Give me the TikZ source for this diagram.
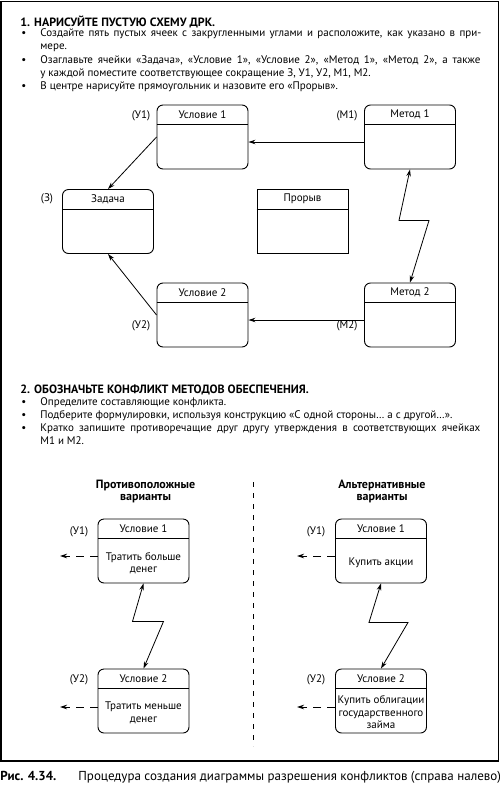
\documentclass[tikz,border=0pt]{standalone}
\usepackage{fontspec}
\setmainfont{PT Sans}
\usetikzlibrary{arrows.meta}

\tikzset{
  txt/.style={anchor=base west, inner sep=0pt, font=\fontsize{11}{13}\selectfont},
  head/.style={txt, font=\fontsize{12}{13}\selectfont\bfseries},
  lbl/.style={inner sep=0pt, font=\fontsize{11}{12.5}\selectfont, align=center},
  cell/.style={draw, rounded corners=6pt, minimum width=91pt, minimum height=64pt, inner sep=0pt, line width=0.9pt},
  flat/.style={cell, rounded corners=0pt},
  dasharrow/.style={->, dash pattern=on 8pt off 6pt}
}

\begin{document}
\begin{tikzpicture}[x=1pt, y=-1pt, line width=0.8pt, >={Stealth[length=7pt,width=4.5pt]}]
            \useasboundingbox (0,0) rectangle (500,788);
            \draw[line width=1.2pt] (1,1.5) rectangle (498.5,761);

            \node[head] (h1) at (20,26) {1. НАРИСУЙТЕ ПУСТУЮ СХЕМУ ДРК.};
            \node[txt] (d1) at (21,36) {•};
            \node[txt] (l1) at (40,36) {\makebox[441pt][s]{Создайте пять пустых ячеек с закругленными углами и расположите, как указано в при-}};
            \node[txt] (l2) at (40,49) {мере.};
            \node[txt] (d2) at (21,63) {•};
            \node[txt] (l3) at (40,63) {\makebox[440pt][s]{Озаглавьте ячейки «Задача», «Условие 1», «Условие 2», «Метод 1», «Метод 2», а также}};
            \node[txt] (l4) at (40,76) {у каждой поместите соответствующее сокращение З, У1, У2, М1, М2.};
            \node[txt] (d3) at (21,89) {•};
            \node[txt] (l5) at (40,89) {В центре нарисуйте прямоугольник и назовите его «Прорыв».};

            \node[cell] (u1) at (202.5,137) {};
            \node[cell] (z) at (108,221.5) {};
            \node[cell] (u2) at (202.5,315) {};
            \node[cell] (m1) at (410,137) {};
            \node[flat] (pr) at (302.5,221.5) {};
            \node[cell] (m2) at (410,315) {};

            \node[lbl] (u1t) at ([yshift=-10pt]u1.north) {Условие 1};
            \node[lbl] (zt) at ([yshift=-10pt]z.north) {Задача};
            \node[lbl] (u2t) at ([yshift=-10pt]u2.north) {Условие 2};
            \node[lbl] (m1t) at ([yshift=-10pt]m1.north) {Метод 1};
            \node[lbl] (prt) at ([yshift=-10pt]pr.north) {Прорыв};
            \node[lbl] (m2t) at ([yshift=-10pt]m2.north) {Метод 2};

            \node[lbl] (u1n) at (141,116) {(У1)};
            \node[lbl] (zn) at (47,199) {(З)};
            \node[lbl] (u2n) at (141,326) {(У2)};
            \node[lbl] (m1n) at (347,116) {(М1)};
            \node[lbl] (m2n) at (347,326) {(М2)};

            \draw[->] ([yshift=-5pt]m1.west) -- ([yshift=-5pt]u1.east);
            \draw[->] ([yshift=-5pt]m2.west) -- ([yshift=-5pt]u2.east);
            \draw[->] (u1.west) -- (z.north);
            \draw[->] (u2.west) -- (z.south);
            \draw[<->] (m1.south) -- ++(-11,51) -- ++(30,0) -- (m2.north);

            \node[head] (h2) at (20,393) {2. ОБОЗНАЧЬТЕ КОНФЛИКТ МЕТОДОВ ОБЕСПЕЧЕНИЯ.};
            \node[txt] (d4) at (21,405) {•};
            \node[txt] (k1) at (40,405) {Определите составляющие конфликта.};
            \node[txt] (d5) at (21,418) {•};
            \node[txt] (k2) at (40,418) {Подберите формулировки, используя конструкцию «С одной стороны… а с другой…».};
            \node[txt] (d6) at (21,431) {•};
            \node[txt] (k3) at (40,431) {\makebox[440pt][s]{Кратко запишите противоречащие друг другу утверждения в соответствующих ячейках}};
            \node[txt] (k4) at (40,444) {М1 и М2.};

            \draw[dash pattern=on 5pt off 6pt] (253,482) -- (253,746);

            \node[lbl, font=\fontsize{12}{12}\selectfont\bfseries] (ct1) at (145.5,491) {Противоположные\\варианты};
            \node[lbl, font=\fontsize{12}{12}\selectfont\bfseries] (ct2) at (382,491) {Альтернативные\\варианты};

            \node[cell] (a1) at (143.5,551) {};
            \node[cell] (a2) at (143.5,701) {};
            \node[cell] (b1) at (381,551) {};
            \node[cell] (b2) at (381,701) {};

            \node[lbl] (a1t) at ([yshift=-10pt]a1.north) {Условие 1};
            \node[lbl] (a2t) at ([yshift=-10pt]a2.north) {Условие 2};
            \node[lbl] (b1t) at ([yshift=-10pt]b1.north) {Условие 1};
            \node[lbl] (b2t) at ([yshift=-10pt]b2.north) {Условие 2};

            \node[lbl] (a1b) at (143.5,563) {Тратить больше\\денег};
            \node[lbl] (a2b) at (143.5,713) {Тратить меньше\\денег};
            \node[lbl] (b1b) at (381,563) {Купить акции};
            \node[lbl] (b2b) at (381,712.5) {Купить облигации\\государственного\\займа};

            \node[lbl] (a1n) at (79,532) {(У1)};
            \node[lbl] (a2n) at (79,680) {(У2)};
            \node[lbl] (b1n) at (316,532) {(У1)};
            \node[lbl] (b2n) at (316,680) {(У2)};

            \foreach \b in {u1,z,u2,m1,pr,m2,a1,a2,b1,b2}
              \draw ([yshift=-20pt]\b.north west) -- ([yshift=-20pt]\b.north east);

            \coordinate (a1e) at (60,556);
            \coordinate (a2e) at (60,707);
            \coordinate (b1e) at (297,556);
            \coordinate (b2e) at (297,707);
            \draw[dasharrow] ([yshift=-5pt]a1.west) -- (a1e);
            \draw[dasharrow] ([yshift=-6pt]a2.west) -- (a2e);
            \draw[dasharrow] ([yshift=-5pt]b1.west) -- (b1e);
            \draw[dasharrow] ([yshift=-6pt]b2.west) -- (b2e);

            \draw[<->] (a1.south) -- ++(-11,38) -- ++(31,0) -- (a2.north);
            \draw[<->] (b1.south) -- ++(-12,39) -- ++(39,0) -- (b2.north);

            \node[txt, font=\fontsize{13}{14}\selectfont\bfseries] (cap1) at (0,780) {Рис. 4.34.};
            \node[txt, font=\fontsize{13}{14}\selectfont] (cap2) at (78,780) {Процедура создания диаграммы разрешения конфликтов (справа налево)};
        \end{tikzpicture}
\end{document}
